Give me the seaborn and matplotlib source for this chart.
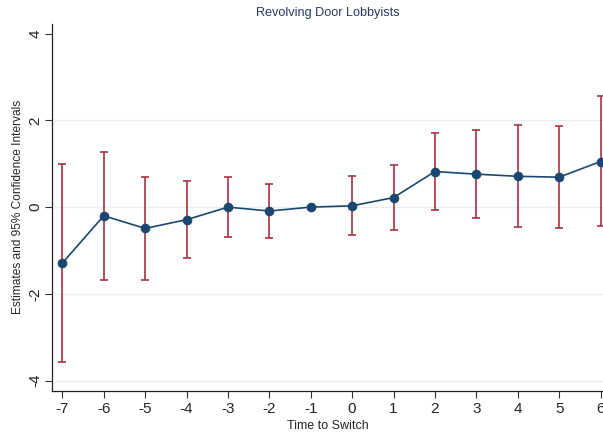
import numpy as np
import pandas as pd
import matplotlib
matplotlib.use("Agg")
import matplotlib.pyplot as plt
import seaborn as sns

# Data
time = [-7, -6, -5, -4, -3, -2, -1, 0, 1, 2, 3, 4, 5, 6]
estimate = [-1.29, -0.20, -0.49, -0.29, 0.00, -0.09, 0.00, 0.03, 0.22, 0.82, 0.76, 0.71, 0.69, 1.05]
ci_low = [-3.58, -1.675, -1.675, -1.18, -0.69, -0.72, 0.00, -0.64, -0.53, -0.06, -0.24, -0.45, -0.49, -0.44]
ci_high = [1.00, 1.27, 0.705, 0.61, 0.70, 0.54, 0.00, 0.71, 0.98, 1.70, 1.77, 1.90, 1.88, 2.57]
y_ticks = [-4, -2, 0, 2, 4]

df = pd.DataFrame({"time": time, "est": estimate, "lo": ci_low, "hi": ci_high})

sns.set_style("white")
plt.rcParams["font.family"] = ["Liberation Sans", "DejaVu Sans"]

fig = plt.figure(figsize=(6.03, 4.33), dpi=100)
ax = fig.add_axes([0.0862, 0.0977, 0.9138, 0.8469])

navy = "#1a476f"
red = "#a8323f"

for g in [-4, -2, 0, 2]:
    ax.axhline(g, color="#e6eef0", lw=0.9, zorder=0)

ci = df[df["hi"] > df["lo"]]
ax.errorbar(ci["time"], ci["est"],
            yerr=[ci["est"] - ci["lo"], ci["hi"] - ci["est"]],
            fmt="none", ecolor=red, elinewidth=1.2, capsize=3.2, capthick=1.2, zorder=2)

sns.lineplot(data=df, x="time", y="est", ax=ax, color=navy, lw=1.2,
             marker="o", markersize=6.2, markeredgecolor=navy, markerfacecolor=navy,
             zorder=3, sort=False)

ax.set_xlim(-7.25, 6.06)
ax.set_ylim(-4.23, 4.22)
ax.set_xticks(time)
ax.set_xticklabels([str(t) for t in time], fontsize=11)
ax.set_yticks(y_ticks)
ax.set_yticklabels([str(t) for t in y_ticks], fontsize=11, rotation=90, va="center")
ax.tick_params(axis="both", which="both", direction="out", length=5, width=0.8,
               color="#333333", left=True, bottom=True)
ax.tick_params(axis="y", pad=2)
ax.tick_params(axis="x", pad=3)

for s in ["top", "right"]:
    ax.spines[s].set_visible(False)
for s in ["left", "bottom"]:
    ax.spines[s].set_color("#222222")
    ax.spines[s].set_linewidth(0.9)

ax.set_xlabel("Time to Switch", fontsize=9.0, labelpad=3)
ax.set_ylabel("Estimates and 95% Confidence Intervals", fontsize=8.6, labelpad=3)
fig.text(0.5 * (0.0862 + 1.0), 1 - 13 / 433, "Revolving Door Lobbyists",
         ha="center", va="center", fontsize=9.1, color="#2a3a62")

fig.savefig("out.png", dpi=100)
